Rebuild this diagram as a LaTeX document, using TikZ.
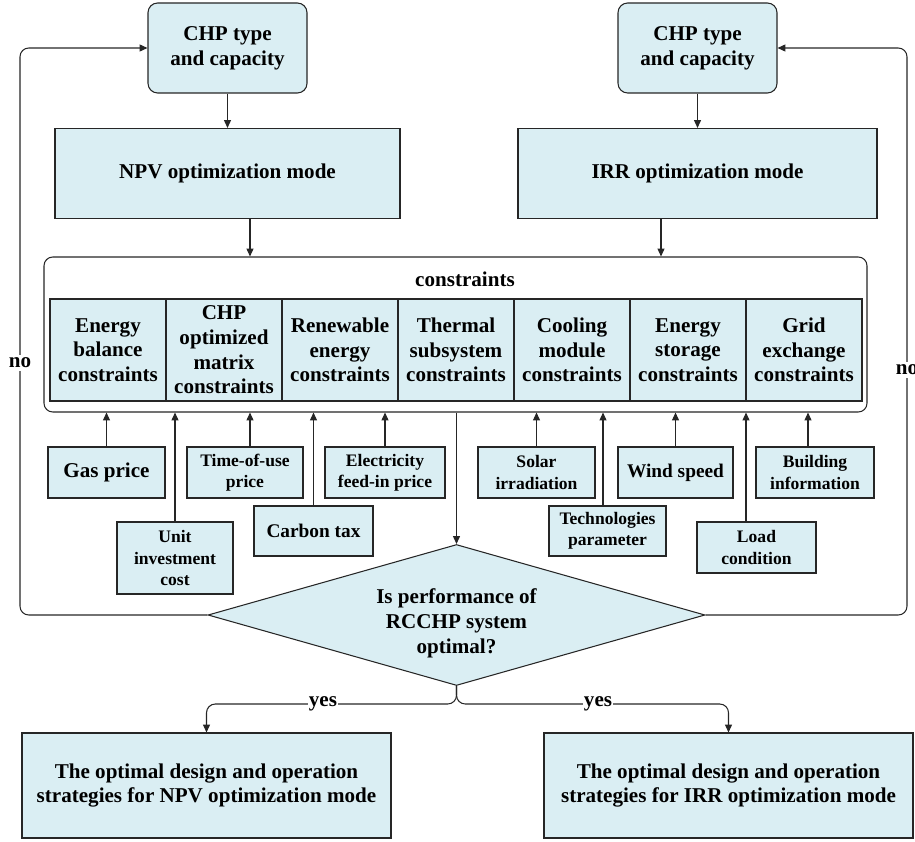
\documentclass[tikz,border=0pt]{standalone}
\usepackage{fontspec}
\setmainfont{Liberation Serif}[BoldFont={Liberation Serif Bold}]
\usetikzlibrary{shapes.geometric,arrows.meta}
\definecolor{boxblue}{HTML}{DAEEF3}
\definecolor{edge}{HTML}{262626}
\begin{document}
\begin{tikzpicture}[x=0.02cm,y=-0.02cm,
  base/.style={draw=edge, fill=boxblue, line width=0.6pt, font=\bfseries\fontsize{12}{14}\selectfont, align=center, inner sep=0pt},
  sz/.style 2 args={minimum width=#1*0.02cm, minimum height=#2*0.02cm},
  rbox/.style={base, rounded corners=5.5pt},
  inp/.style={base, font=\bfseries\fontsize{10}{12}\selectfont},
  arr/.style={-{Triangle[length=4.5pt,width=4pt]}, line width=0.6pt, draw=edge},
  lbl/.style={fill=white, inner sep=1.5pt, font=\bfseries\fontsize{12}{14}\selectfont},
]
\useasboundingbox (0,0) rectangle (915,841);

% top
\node[rbox, sz={159}{90}] (chpL) at (227.5,48) {CHP type\\and capacity};
\node[rbox, sz={159}{90}] (chpR) at (697.5,48) {CHP type\\and capacity};
\node[base, sz={345}{90}] (npv) at (227.5,173.5) {NPV optimization mode};
\node[base, sz={359}{90}] (irr) at (697.5,173.5) {IRR optimization mode};

% constraints container
\node[draw=edge, fill=white, line width=0.6pt, rounded corners=5pt, sz={823}{155}] (cons) at (455.5,334.5) {};
\node[font=\bfseries\fontsize{12}{14}\selectfont, inner sep=0pt] (constitle) at (465,279) {constraints};

\node[base, sz={116}{102}] (c1) at (108,350) {Energy\\balance\\constraints};
\node[base, sz={116}{102}] (c2) at (224,350) {CHP\\optimized\\matrix\\constraints};
\node[base, sz={116}{102}] (c3) at (340,350) {Renewable\\energy\\constraints};
\node[base, sz={116}{102}] (c4) at (456,350) {Thermal\\subsystem\\constraints};
\node[base, sz={116}{102}] (c5) at (572,350) {Cooling\\module\\constraints};
\node[base, sz={116}{102}] (c6) at (688,350) {Energy\\storage\\constraints};
\node[base, sz={116}{102}] (c7) at (804,350) {Grid\\exchange\\constraints};

% inputs
\node[inp, sz={117}{51}, font=\bfseries\fontsize{12}{14}\selectfont] (gas) at (106.5,472.5) {Gas price};
\node[inp, sz={116}{51}] (tou) at (245,472.5) {Time-of-use\\price};
\node[inp, sz={120}{51}] (elec) at (385,472.5) {Electricity\\feed-in price};
\node[inp, sz={117}{51}] (solar) at (536.5,472.5) {Solar\\irradiation};
\node[inp, sz={115}{51}, font=\bfseries\fontsize{11}{13}\selectfont] (wind) at (675.5,472.5) {Wind speed};
\node[inp, sz={118}{51}] (build) at (815,472.5) {Building\\information};
\node[inp, sz={116}{72}] (unit) at (175,558) {Unit\\investment\\cost};
\node[inp, sz={119}{50}, font=\bfseries\fontsize{11}{13}\selectfont] (carbon) at (313.5,531) {Carbon tax};
\node[inp, sz={117}{50}] (tech) at (607.5,531) {Technologies\\parameter};
\node[inp, sz={119}{51}] (load) at (756.5,547.5) {Load\\condition};

% decision
\node[base, shape=diamond, sz={497}{141}] (dia) at (456.5,615) {};
\node[font=\bfseries\fontsize{12}{14.2}\selectfont, align=center, inner sep=0pt] (diaq) at ([yshift=-0.16cm]dia.center) {Is performance of\\RCCHP system\\optimal?};

% results
\node[base, sz={369}{105}] (resL) at (206.5,785.5) {The optimal design and operation\\strategies for NPV optimization mode};
\node[base, sz={369}{105}] (resR) at (728.5,785.5) {The optimal design and operation\\strategies for IRR optimization mode};

% top arrows
\draw[arr] (chpL.south) -- (npv.north);
\draw[arr] (chpR.south) -- (irr.north);
\draw[arr] ([xshift=0.45cm]npv.south) -- ([xshift=0.45cm]npv.south |- cons.north);
\draw[arr] ([xshift=-0.73cm]irr.south) -- ([xshift=-0.73cm]irr.south |- cons.north);

% input arrows
\draw[arr] (gas.north) -- (gas.north |- cons.south);
\draw[arr] (unit.north) -- (unit.north |- cons.south);
\draw[arr] ([xshift=0.1cm]tou.north) -- ([xshift=0.1cm]tou.north |- cons.south);
\draw[arr] (carbon.north) -- (carbon.north |- cons.south);
\draw[arr] (elec.north) -- (elec.north |- cons.south);
\draw[arr] (solar.north) -- (solar.north |- cons.south);
\draw[arr] ([xshift=-0.09cm]tech.north) -- ([xshift=-0.09cm]tech.north |- cons.south);
\draw[arr] (wind.north) -- (wind.north |- cons.south);
\draw[arr] ([xshift=-0.21cm]load.north) -- ([xshift=-0.21cm]load.north |- cons.south);
\draw[arr] ([xshift=-0.14cm]build.north) -- ([xshift=-0.14cm]build.north |- cons.south);

% constraints to decision
\draw[arr] (cons.south -| dia.north) -- (dia.north);

% no loops
\coordinate (nol) at (20,363);
\coordinate (nor) at (907,370);
\draw[arr, rounded corners=5pt] (dia.west) -| (nol) |- (chpL.west);
\draw[arr, rounded corners=5pt] (dia.east) -| (nor) |- (chpR.east);
\node[lbl] (nolabel) at (nol) {no};
\node[lbl] (norlabel) at (nor) {no};

% yes branches
\coordinate (ybL) at (323,704);
\coordinate (ybR) at (598,704);
\draw[arr, rounded corners=5pt] (dia.south) |- (ybL) -| (resL.north);
\draw[arr, rounded corners=5pt] (dia.south) |- (ybR) -| (resR.north);
\node[lbl, inner sep=0.5pt] (yesL) at (ybL) {yes};
\node[lbl, inner sep=0.5pt] (yesR) at (ybR) {yes};
\end{tikzpicture}
\end{document}
